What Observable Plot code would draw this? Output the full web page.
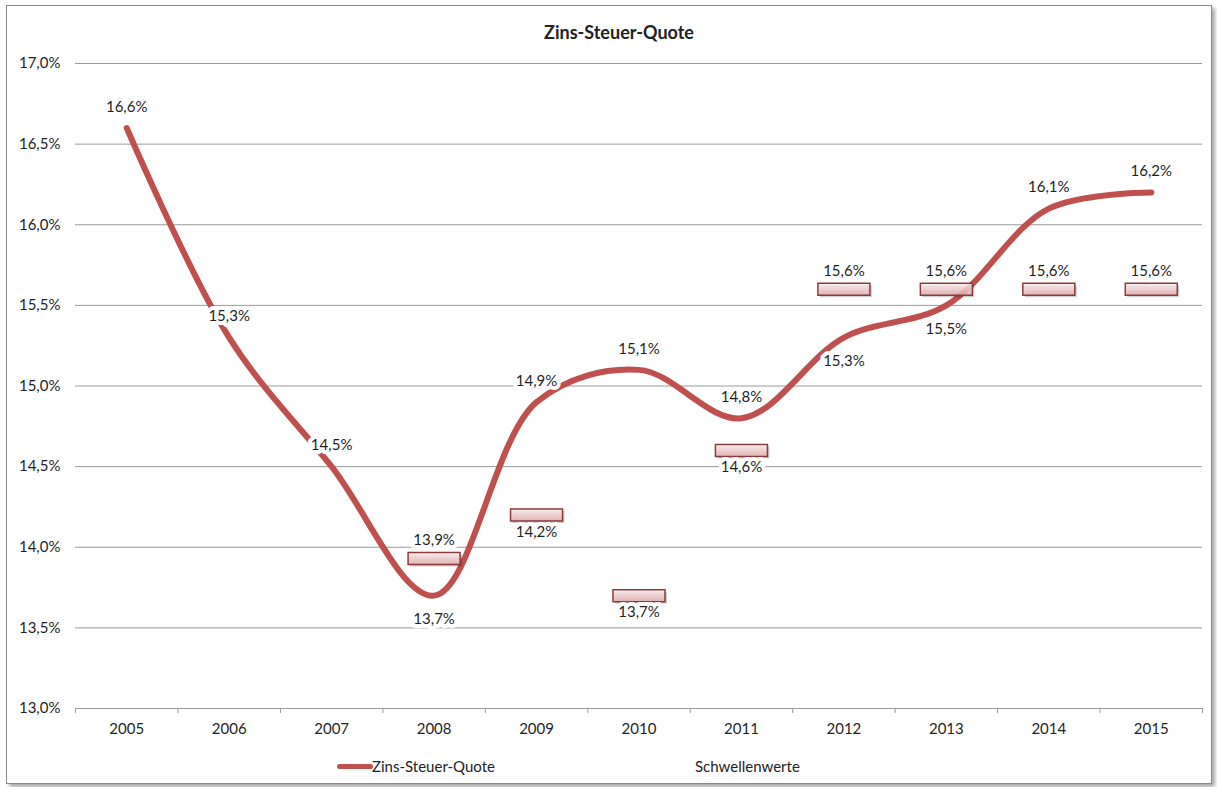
<!DOCTYPE html>
<html>
<head>
<meta charset="utf-8">
<script src="https://cdn.jsdelivr.net/npm/d3@7"></script>
<script src="https://cdn.jsdelivr.net/npm/@observablehq/plot@0.6"></script>
<style>
  body { margin: 0; background: #fff; font-family: Lato, "Open Sans", sans-serif; color: #222; }
  #frame { position: absolute; left: 6px; top: 5px; width: 1204px; height: 777px; border: 1px solid #8a8a8a;
           box-shadow: 3px 3px 4px rgba(0,0,0,0.35); background: #fff; }
  #title { position: absolute; top: 15px; left: 10px; width: 100%; text-align: center; font-weight: bold; font-size: 18px; line-height: 22px; }
  #chart { position: absolute; top: 39px; left: 0; }
  .leg { position: absolute; top: 750px; font-size: 15px; line-height: 20px; }
  #sw { position: absolute; left: 330px; top: 758px; width: 36px; height: 5px; border-radius: 3px; background: #c0504d; }
</style>
</head>
<body>
<div id="frame">
  <div id="title">Zins-Steuer-Quote</div>
  <div id="chart"></div>
  <div id="sw"></div>
  <div class="leg" style="left:365px">Zins-Steuer-Quote</div>
  <div class="leg" style="left:688px">Schwellenwerte</div>
</div>
<script>
const years = [2005, 2006, 2007, 2008, 2009, 2010, 2011, 2012, 2013, 2014, 2015];
const quote = [16.6, 15.3, 14.5, 13.7, 14.9, 15.1, 14.8, 15.3, 15.5, 16.1, 16.2];
const schwellen = [null, null, null, 13.93, 14.2, 13.7, 14.6, 15.6, 15.6, 15.6, 15.6];
const yTicks = [13, 13.5, 14, 14.5, 15, 15.5, 16, 16.5, 17];

const fmt = v => v.toFixed(1).replace(".", ",") + "%";
const rows = years.map((year, i) => ({year, value: quote[i], schwelle: schwellen[i]}));
const thr = rows.filter(d => d.schwelle != null);
const boundaries = years.map(y => y - 0.5).concat([years[years.length - 1] + 0.5]);

// style: line labels go below where the threshold lies above the line
const lineBelow = d => d.schwelle != null && d.schwelle > d.value;
const thrBelow = new Set([2009, 2010, 2011]);

const barSymbol = {
  draw(ctx) {
    const w = 26, h = 6;
    ctx.moveTo(-w, -h); ctx.lineTo(w, -h); ctx.lineTo(w, h); ctx.lineTo(-w, h); ctx.closePath();
  }
};

const halo = {stroke: "white", strokeWidth: 8, fill: "#1f1f1f", fontSize: 15};

const chart = Plot.plot({
  width: 1204,
  height: 698,
  marginLeft: 68,
  marginRight: 9,
  marginTop: 18,
  marginBottom: 35,
  style: {fontFamily: "Lato, 'Open Sans', sans-serif", fontSize: "15px", color: "#1f1f1f", background: "transparent"},
  x: {type: "linear", domain: [2004.5, 2015.5]},
  y: {domain: [13, 17]},
  marks: [
    Plot.gridY(yTicks, {stroke: "#9a9a9a", strokeOpacity: 1, strokeWidth: 1}),
    Plot.axisY({ticks: yTicks, tickFormat: fmt, tickSize: 0, tickPadding: 15, fontSize: 15, label: null}),
    Plot.axisX({ticks: years, tickFormat: d => String(d), tickSize: 0, tickPadding: 15, fontSize: 15, label: null}),
    Plot.axisX({ticks: boundaries, tickFormat: () => "", tickSize: 5, stroke: "#9a9a9a", label: null}),
    Plot.line(rows, {x: "year", y: "value", stroke: "#c0504d", strokeWidth: 6, curve: "catmull-rom", strokeLinecap: "round"}),
    Plot.dot(thr, {x: "year", y: "schwelle", symbol: barSymbol, fill: "rgba(0,0,0,0.18)", stroke: "none", dx: 2, dy: 2}),
    Plot.dot(thr, {x: "year", y: "schwelle", symbol: barSymbol, fill: "url(#barGrad)", stroke: "#8b3a39", strokeWidth: 1.5, fillOpacity: 0.85}),
    Plot.text(rows.filter(d => !lineBelow(d)), {x: "year", y: "value", text: d => fmt(d.value), dy: -21, ...halo}),
    Plot.text(rows.filter(lineBelow), {x: "year", y: "value", text: d => fmt(d.value), dy: 24, ...halo}),
    Plot.text(thr.filter(d => !thrBelow.has(d.year)), {x: "year", y: "schwelle", text: d => fmt(d.schwelle), dy: -18, ...halo}),
    Plot.text(thr.filter(d => thrBelow.has(d.year)), {x: "year", y: "schwelle", text: d => fmt(d.schwelle), dy: 17, ...halo})
  ]
});

const ns = "http://www.w3.org/2000/svg";
const defs = document.createElementNS(ns, "defs");
defs.innerHTML = `<linearGradient id="barGrad" x1="0" y1="0" x2="0" y2="1">
  <stop offset="0" stop-color="#fdf3f3"/>
  <stop offset="0.35" stop-color="#f4d9d9"/>
  <stop offset="1" stop-color="#e2aeae"/>
</linearGradient>`;
chart.insertBefore(defs, chart.firstChild);
document.getElementById("chart").appendChild(chart);
</script>
</body>
</html>
